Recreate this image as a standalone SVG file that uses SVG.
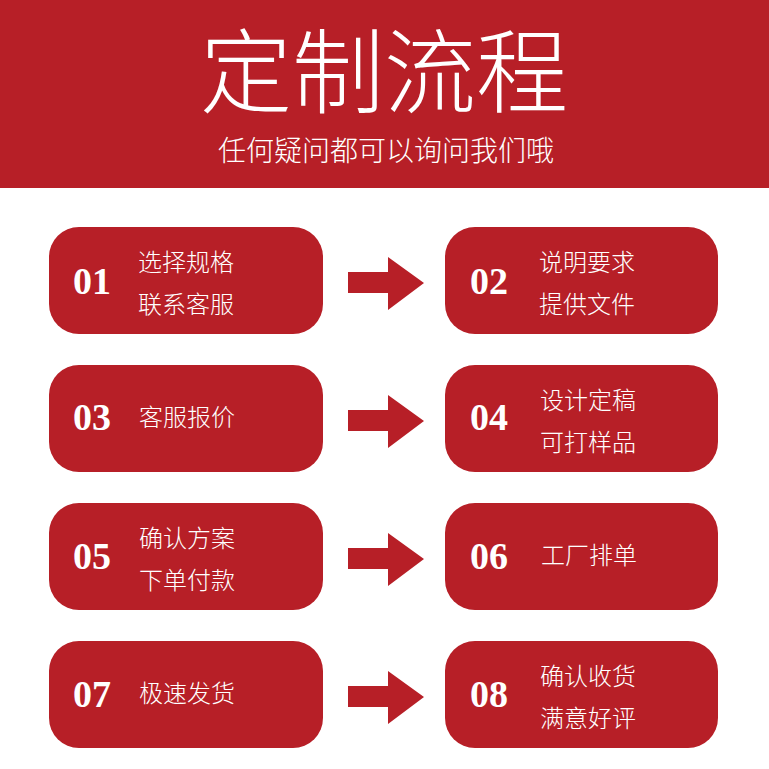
<svg xmlns="http://www.w3.org/2000/svg" width="769" height="769" viewBox="0 0 769 769">
<style>
.box{fill:#B71F27}
.num{font-family:"Liberation Serif",serif;font-weight:bold;font-size:38px;fill:#FFFFFF}
.txt{font-family:"Noto Sans CJK SC",sans-serif;font-size:24px;fill:#FFFFFF;font-weight:300}
.arrow{fill:#B71F27}
</style>
<rect x="0" y="0" width="769" height="769" fill="#FFFFFF"/>
<g id="header">
<rect x="0" y="0" width="769" height="188" fill="#B71F27"/>
<text x="384" y="106" text-anchor="middle" font-family="Noto Sans CJK SC, sans-serif" font-weight="300" font-size="92" fill="#FFFFFF">定制流程</text>
<text x="386" y="161" text-anchor="middle" font-family="Noto Sans CJK SC, sans-serif" font-weight="300" font-size="28" fill="#FFFFFF">任何疑问都可以询问我们哦</text>
</g>
<g id="connectors">
<polygon class="arrow" points="348,272 388,272 388,257 424,283 388,310 388,293 348,293"/>
<polygon class="arrow" points="348,410 388,410 388,395 424,421 388,448 388,431 348,431"/>
<polygon class="arrow" points="348,548 388,548 388,533 424,559 388,586 388,569 348,569"/>
<polygon class="arrow" points="348,686 388,686 388,671 424,697 388,724 388,707 348,707"/>
</g>
<g id="step01">
<rect class="box" x="49" y="227" width="274" height="107" rx="30"/>
<text class="num" x="73" y="294">01</text>
<text class="txt" x="138" y="271">选择规格</text>
<text class="txt" x="138" y="313">联系客服</text>
</g>
<g id="step02">
<rect class="box" x="445" y="227" width="273" height="107" rx="30"/>
<text class="num" x="470" y="294">02</text>
<text class="txt" x="539" y="271">说明要求</text>
<text class="txt" x="539" y="313">提供文件</text>
</g>
<g id="step03">
<rect class="box" x="49" y="365" width="274" height="107" rx="30"/>
<text class="num" x="73" y="430">03</text>
<text class="txt" x="139" y="426">客服报价</text>
</g>
<g id="step04">
<rect class="box" x="445" y="365" width="273" height="107" rx="30"/>
<text class="num" x="470" y="430">04</text>
<text class="txt" x="540" y="409">设计定稿</text>
<text class="txt" x="540" y="451">可打样品</text>
</g>
<g id="step05">
<rect class="box" x="49" y="503" width="274" height="107" rx="30"/>
<text class="num" x="73" y="569">05</text>
<text class="txt" x="139" y="547">确认方案</text>
<text class="txt" x="139" y="589">下单付款</text>
</g>
<g id="step06">
<rect class="box" x="445" y="503" width="273" height="107" rx="30"/>
<text class="num" x="470" y="569">06</text>
<text class="txt" x="541" y="564">工厂排单</text>
</g>
<g id="step07">
<rect class="box" x="49" y="641" width="274" height="107" rx="30"/>
<text class="num" x="73" y="707">07</text>
<text class="txt" x="139" y="702">极速发货</text>
</g>
<g id="step08">
<rect class="box" x="445" y="641" width="273" height="107" rx="30"/>
<text class="num" x="470" y="707">08</text>
<text class="txt" x="540" y="685">确认收货</text>
<text class="txt" x="540" y="727">满意好评</text>
</g>
</svg>
